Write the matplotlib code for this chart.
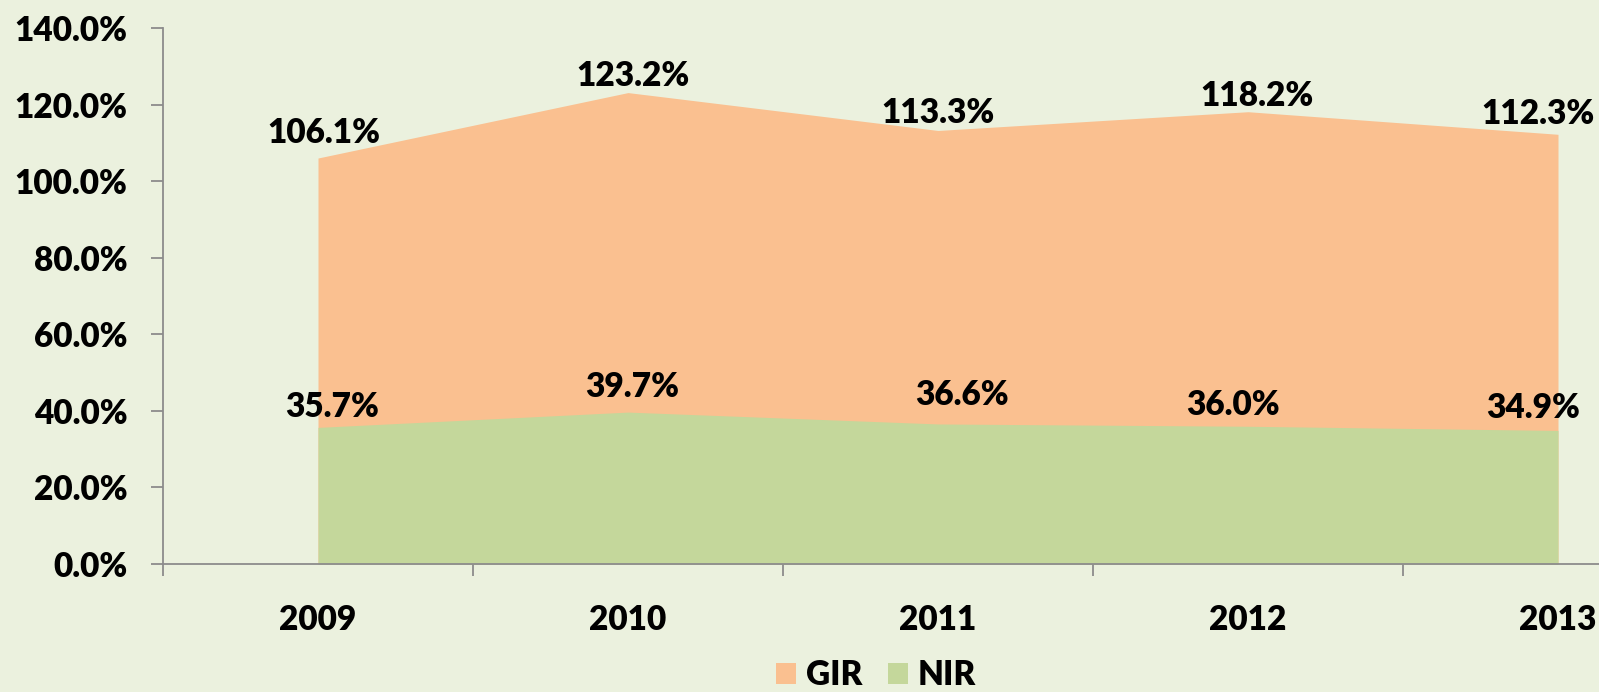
import matplotlib
matplotlib.use("Agg")
import matplotlib.pyplot as plt
from matplotlib.patches import Patch
from matplotlib.ticker import MultipleLocator, FixedLocator, FuncFormatter

years = ["2009", "2010", "2011", "2012", "2013"]
gir = [106.1, 123.2, 113.3, 118.2, 112.3]
nir = [35.7, 39.7, 36.6, 36.0, 34.9]

# label offsets (pixels) from the data point to the label centre
gir_off = [(6, 28), (4.5, 18.6), (0, 19.5), (9, 18.7), (-20, 22.3)]
nir_off = [(14, 22.4), (4.6, 28), (23.7, 31), (-15, 23.3), (-25, 24.5)]

BG = "#EBF1DE"
ORANGE = "#FAC090"
GREEN = "#C4D79B"
AX = "#8C8C8C"
FONT = "Lato"
WEIGHT = "heavy"
FS = 24

W, H = 1599, 692
fig = plt.figure(figsize=(W / 100, H / 100), dpi=100, facecolor=BG)
ax = fig.add_axes([163 / W, (H - 564) / H, 1550 / W, (564 - 28.3) / H])
ax.set_facecolor(BG)

x = list(range(len(years)))
ax.fill_between(x, 0, gir, color=ORANGE, linewidth=0, zorder=1)
ax.fill_between(x, 0, nir, color=GREEN, linewidth=0, zorder=2)

ax.set_xlim(-0.5, len(years) - 0.5)
ax.set_ylim(0, 140)

for s in ["top", "right"]:
    ax.spines[s].set_visible(False)
for s in ["left", "bottom"]:
    ax.spines[s].set_color(AX)
    ax.spines[s].set_linewidth(1.3)
    ax.spines[s].set_zorder(5)

ax.yaxis.set_major_locator(MultipleLocator(20))
ax.yaxis.set_major_formatter(FuncFormatter(lambda v, p: f"{v:.1f}%"))
ax.tick_params(axis="y", direction="out", length=8.6, width=1.3, color=AX, pad=17)

ax.set_xticks(x)
ax.set_xticklabels(years)
ax.xaxis.set_minor_locator(FixedLocator([i - 0.5 for i in range(len(years) + 1)]))
ax.tick_params(axis="x", which="major", length=0, pad=29)
ax.tick_params(axis="x", which="minor", direction="out", length=8.6, width=1.3, color=AX)

for lab in ax.get_xticklabels() + ax.get_yticklabels():
    lab.set_fontfamily(FONT)
    lab.set_fontweight(WEIGHT)
    lab.set_fontsize(FS)
    lab.set_color("black")

def label(vals, offs):
    for i, (v, (dx, dy)) in enumerate(zip(vals, offs)):
        ax.annotate(f"{v:.1f}%", xy=(i, v), xytext=(dx, dy - 12.5),
                    textcoords="offset pixels", ha="center", va="baseline",
                    fontfamily=FONT, fontweight=WEIGHT, fontsize=FS,
                    color="black", zorder=6, annotation_clip=False)

label(gir, gir_off)
label(nir, nir_off)

handles = [Patch(facecolor=ORANGE, edgecolor="none", label="GIR"),
           Patch(facecolor=GREEN, edgecolor="none", label="NIR")]
fig.legend(handles=handles, loc="center", bbox_to_anchor=(876 / W, 1 - 675 / H),
           ncol=2, frameon=False, handlelength=0.6, handleheight=0.6,
           handletextpad=0.3, columnspacing=0.75, borderpad=0.1,
           prop={"family": FONT, "weight": WEIGHT, "size": FS})

fig.savefig("out.png", dpi=100, facecolor=BG)
